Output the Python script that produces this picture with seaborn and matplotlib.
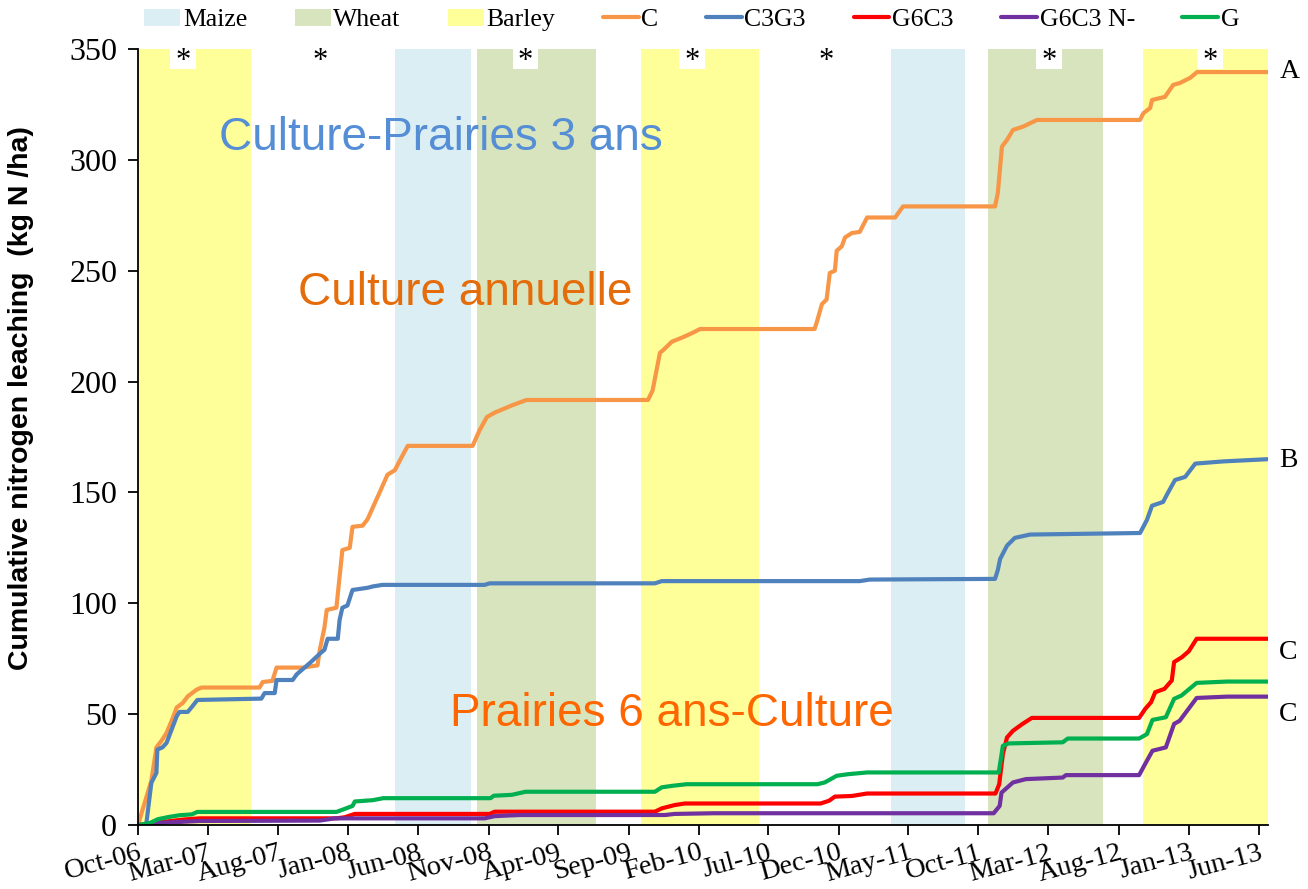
"""
Cumulative nitrogen leaching under five rotations (Oct-06 to Jun-13),
with crop periods shaded behind the curves.
"""

import matplotlib
matplotlib.use("Agg")
import matplotlib.dates as mdates
import matplotlib.pyplot as plt
import pandas as pd
import seaborn as sns
from matplotlib.lines import Line2D
from matplotlib.patches import Patch

# ── Data ──────────────────────────────────────────────────────────────────────
C_DATES = [
    "2006-10-01", "2006-10-30", "2006-11-10", "2006-11-21", "2006-12-02",
    "2006-12-13", "2006-12-24", "2007-01-06", "2007-01-17", "2007-02-05",
    "2007-02-16", "2007-06-22", "2007-06-29", "2007-07-20", "2007-07-29",
    "2007-09-24", "2007-10-26", "2007-10-31", "2007-11-10", "2007-11-15",
    "2007-12-06", "2007-12-13", "2007-12-19", "2008-01-04", "2008-01-10",
    "2008-02-01", "2008-02-12", "2008-02-27", "2008-03-09", "2008-03-26",
    "2008-04-11", "2008-04-26", "2008-05-09", "2008-09-27", "2008-10-12",
    "2008-10-28", "2008-11-14", "2008-12-23", "2009-01-22", "2009-10-13",
    "2009-10-23", "2009-11-08", "2009-11-14", "2009-12-04", "2009-12-28",
    "2010-01-18", "2010-02-03", "2010-10-10", "2010-10-15", "2010-10-26",
    "2010-11-05", "2010-11-12", "2010-11-23", "2010-11-27", "2010-12-08",
    "2010-12-15", "2010-12-30", "2011-01-16", "2011-02-01", "2011-04-03",
    "2011-04-20", "2011-11-06", "2011-11-12", "2011-11-21", "2011-12-02",
    "2011-12-15", "2012-01-06", "2012-02-05", "2012-09-16", "2012-09-23",
    "2012-10-08", "2012-10-12", "2012-11-09", "2012-11-27", "2012-12-12",
    "2013-01-03", "2013-01-18", "2013-06-21",
]
C_VALUES = [
    0, 20, 35, 38, 41.5, 47, 53, 55, 58, 61,
    62, 62, 64.5, 65, 71, 71, 72, 79, 89, 97,
    98, 112, 124, 125, 134.5, 135, 138, 145, 150, 158,
    160, 166, 171, 171, 178, 184, 186, 189.4, 191.7, 191.7,
    196, 213, 214, 218, 220, 222, 223.7, 223.7, 227, 235,
    237, 249, 250, 259, 261, 265, 267, 267.5, 274, 274,
    279, 279, 285, 306, 309, 313.5, 315, 318, 318, 321,
    323.4, 327, 328.4, 333.8, 334.7, 337, 339.6, 339.6,
]

C3G3_DATES = [
    "2006-10-19", "2006-10-30", "2006-11-10", "2006-11-12", "2006-11-23",
    "2006-12-02", "2006-12-13", "2006-12-24", "2006-12-30", "2007-01-17",
    "2007-01-25", "2007-02-07", "2007-06-26", "2007-07-03", "2007-07-25",
    "2007-07-29", "2007-09-02", "2007-09-11", "2007-10-09", "2007-11-04",
    "2007-11-10", "2007-11-17", "2007-12-09", "2007-12-13", "2007-12-19",
    "2007-12-30", "2008-01-10", "2008-02-12", "2008-02-23", "2008-03-15",
    "2008-10-23", "2008-11-03", "2009-10-28", "2009-11-12", "2011-01-16",
    "2011-02-07", "2011-11-06", "2011-11-12", "2011-11-17", "2011-12-02",
    "2011-12-19", "2012-01-21", "2012-09-16", "2012-10-01", "2012-10-12",
    "2012-11-05", "2012-11-16", "2012-12-01", "2012-12-23", "2013-01-14",
    "2013-03-16", "2013-06-21",
]
C3G3_VALUES = [
    0.5, 19, 23.5, 34, 35, 37, 43, 49, 51, 51,
    53, 56.4, 57, 59.5, 59.5, 65.4, 65.4, 68, 73, 78,
    79, 84, 84, 92.5, 98, 99, 106, 107, 107.6, 108.3,
    108.3, 109, 109, 110, 110, 110.7, 111, 115, 120, 126,
    129.5, 131, 131.7, 137.6, 144, 145.7, 150, 155.6, 157, 163,
    164, 165,
]

G6C3_DATES = [
    "2006-10-02", "2006-11-06", "2007-01-10", "2007-02-12", "2007-12-06",
    "2007-12-24", "2008-01-15", "2008-11-03", "2008-11-14", "2009-10-28",
    "2009-11-12", "2009-12-10", "2010-01-01", "2010-10-23", "2010-11-10",
    "2010-11-23", "2010-12-30", "2011-02-01", "2011-11-07", "2011-11-15",
    "2011-11-23", "2011-12-02", "2011-12-15", "2012-01-04", "2012-01-25",
    "2012-09-14", "2012-09-27", "2012-10-10", "2012-10-19", "2012-11-08",
    "2012-11-24", "2012-11-29", "2012-12-16", "2012-12-31", "2013-01-17",
    "2013-06-21",
]
G6C3_VALUES = [
    0, 1, 2.5, 3, 3, 3.5, 5, 5, 6, 6,
    7.5, 9, 9.7, 9.7, 10.9, 12.8, 13.1, 14.2, 14.2, 18.4,
    32, 39.5, 42.5, 45.5, 48.3, 48.3, 52.3, 55.4, 59.9, 61.4,
    65.2, 73.5, 75.7, 78.4, 84, 84,
]

G6C3N_DATES = [
    "2006-10-15", "2006-11-21", "2007-02-12", "2007-10-31", "2007-12-02",
    "2008-10-23", "2008-11-14", "2009-01-07", "2009-11-19", "2009-12-10",
    "2010-03-05", "2011-11-03", "2011-11-16", "2011-11-20", "2011-12-15",
    "2012-01-12", "2012-04-01", "2012-04-08", "2012-09-14", "2012-09-27",
    "2012-10-13", "2012-11-11", "2012-11-29", "2012-12-11", "2013-01-17",
    "2013-03-24", "2013-06-21",
]
G6C3N_VALUES = [
    0, 1, 1.8, 2, 3, 3, 4, 4.5, 4.5, 5,
    5.3, 5.3, 8.6, 14.6, 19.2, 20.7, 21.4, 22.5, 22.5, 27.5,
    33.5, 35, 45.6, 47, 57.3, 57.9, 57.9,
]

G_DATES = [
    "2006-10-02", "2006-10-28", "2006-11-13", "2006-12-06", "2006-12-30",
    "2007-01-26", "2007-02-07", "2007-12-06", "2007-12-22", "2008-01-10",
    "2008-01-15", "2008-02-23", "2008-03-17", "2008-11-05", "2008-11-12",
    "2008-12-21", "2009-01-20", "2009-10-28", "2009-11-12", "2009-12-06",
    "2010-01-05", "2010-10-16", "2010-11-01", "2010-11-27", "2010-12-21",
    "2011-02-01", "2011-11-14", "2011-11-23", "2011-12-06", "2012-04-01",
    "2012-04-12", "2012-09-14", "2012-10-01", "2012-10-13", "2012-11-11",
    "2012-11-29", "2012-12-15", "2013-01-17", "2013-03-24", "2013-06-21",
]
G_VALUES = [
    0, 1, 2.6, 3.6, 4.4, 4.8, 5.9, 5.9, 7.1, 8.6,
    10.6, 11.2, 12.1, 12.1, 13.2, 13.6, 15, 15, 17, 17.7,
    18.4, 18.4, 19.2, 22.2, 22.9, 23.7, 23.7, 35.7, 36.8, 37.3,
    39, 39, 41, 47.4, 48.6, 56.9, 58.4, 64.1, 64.7, 64.7,
]

SERIES = ["C", "C3G3", "G6C3", "G6C3 N-", "G"]
SERIES_COLORS = ["#F79646", "#4F81BD", "#FF0000", "#7030A0", "#00B050"]

# crop periods (shaded)
CROPS = ["Barley", "Maize", "Wheat", "Barley", "Maize", "Wheat", "Barley"]
CROP_STARTS = ["2006-10-01", "2008-04-11", "2008-10-06", "2009-09-27",
               "2011-03-25", "2011-10-22", "2012-09-23"]
CROP_ENDS = ["2007-06-03", "2008-09-23", "2009-06-21", "2010-06-11",
             "2011-09-02", "2012-06-28", "2013-06-21"]
CROP_COLORS = {"Maize": "#DAEEF3", "Wheat": "#D7E4BD", "Barley": "#FFFF99"}

# significance marks per year
STAR_DATES = ["2007-01-06", "2007-10-31", "2009-01-20", "2010-01-16",
              "2010-11-03", "2012-03-02", "2013-02-15"]

# end-of-period group letters
GROUP_LETTERS = ["A", "B", "C", "C"]
GROUP_Y = [340, 164.6, 78, 50]

# ── Style ─────────────────────────────────────────────────────────────────────
sns.set_theme(style="ticks")
plt.rcParams.update({
    "font.family": ["Liberation Serif", "DejaVu Serif"],
    "text.color": "black",
    "axes.labelcolor": "black",
    "axes.edgecolor": "black",
    "axes.linewidth": 1.3,
    "xtick.major.size": 7,
    "ytick.major.size": 7,
    "xtick.major.width": 1.3,
    "ytick.major.width": 1.3,
    "xtick.color": "black",
    "ytick.color": "black",
})

frames = []
for name, dates, values in [
    ("C", C_DATES, C_VALUES),
    ("C3G3", C3G3_DATES, C3G3_VALUES),
    ("G6C3", G6C3_DATES, G6C3_VALUES),
    ("G6C3 N-", G6C3N_DATES, G6C3N_VALUES),
    ("G", G_DATES, G_VALUES),
]:
    frames.append(pd.DataFrame({"date": pd.to_datetime(dates),
                                "leaching": values, "treatment": name}))
data = pd.concat(frames, ignore_index=True)

fig = plt.figure(figsize=(13.08, 8.89), dpi=100)
ax = fig.add_axes([138 / 1308, 64 / 889, 1130 / 1308, 776 / 889])

for crop, start, end in zip(CROPS, CROP_STARTS, CROP_ENDS):
    ax.axvspan(pd.Timestamp(start), pd.Timestamp(end),
               color=CROP_COLORS[crop], lw=0, zorder=0)

sns.lineplot(
    data=data, x="date", y="leaching", hue="treatment",
    hue_order=SERIES, palette=SERIES_COLORS, linewidth=3,
    estimator=None, legend=False, ax=ax,
)

# asterisks sit on small white boxes at the top of the plot
half = pd.Timedelta(days=28)
for d in STAR_DATES:
    t = pd.Timestamp(d)
    ax.axvspan(t - half, t + half, ymin=0.974, ymax=1.0,
               color="white", lw=0, zorder=1)
    ax.text(t, 344.5, "*", ha="center", va="center", fontsize=22, zorder=5)

for letter, y in zip(GROUP_LETTERS, GROUP_Y):
    ax.text(1.01, y, letter, transform=ax.get_yaxis_transform(),
            ha="left", va="center", fontsize=20)

sans = ["Liberation Sans", "DejaVu Sans"]
ax.text(pd.Timestamp("2008-07-21"), 310, "Culture-Prairies 3 ans",
        color="#558ED5", fontsize=33, family=sans, ha="center", va="center")
ax.text(pd.Timestamp("2008-09-10"), 240, "Culture annuelle",
        color="#E46C0A", fontsize=33, family=sans, ha="center", va="center")
ax.text(pd.Timestamp("2009-12-04"), 50, "Prairies 6 ans-Culture",
        color="#FF6600", fontsize=33, family=sans, ha="center", va="center")

ax.set_xlim(pd.Timestamp("2006-10-01"), pd.Timestamp("2013-06-21"))
ax.set_ylim(0, 350)
ax.set_yticks(range(0, 351, 50))
ax.set_xticks(pd.date_range("2006-10-01", "2013-06-01", freq="5MS"))
ax.xaxis.set_major_formatter(mdates.DateFormatter("%b-%y"))
ax.tick_params(axis="y", labelsize=23, pad=8)
ax.tick_params(axis="x", labelsize=20.5, pad=4)
for lbl in ax.get_xticklabels():
    lbl.set_rotation(15)
    lbl.set_ha("right")
    lbl.set_rotation_mode("anchor")

ax.set_xlabel("")
ax.set_ylabel("Cumulative nitrogen leaching  (kg N /ha)", family=sans,
              fontsize=20.5, fontweight="bold")
ax.yaxis.set_label_coords(-0.092, 0.55)
sns.despine(ax=ax)

handles = [Patch(facecolor=CROP_COLORS[c], edgecolor="none")
           for c in ["Maize", "Wheat", "Barley"]]
handles += [Line2D([], [], color=col, lw=3, solid_capstyle="round")
            for col in SERIES_COLORS]
labels = ["Maize", "Wheat", "Barley"] + SERIES
fig.legend(handles, labels, loc="center", bbox_to_anchor=(0.529, 1 - 20 / 889),
           ncol=8, frameon=False, fontsize=18.5, handlelength=1.4,
           handletextpad=0.1, columnspacing=1.85, borderaxespad=0)

fig.savefig("out.png", dpi=100, facecolor="white")
